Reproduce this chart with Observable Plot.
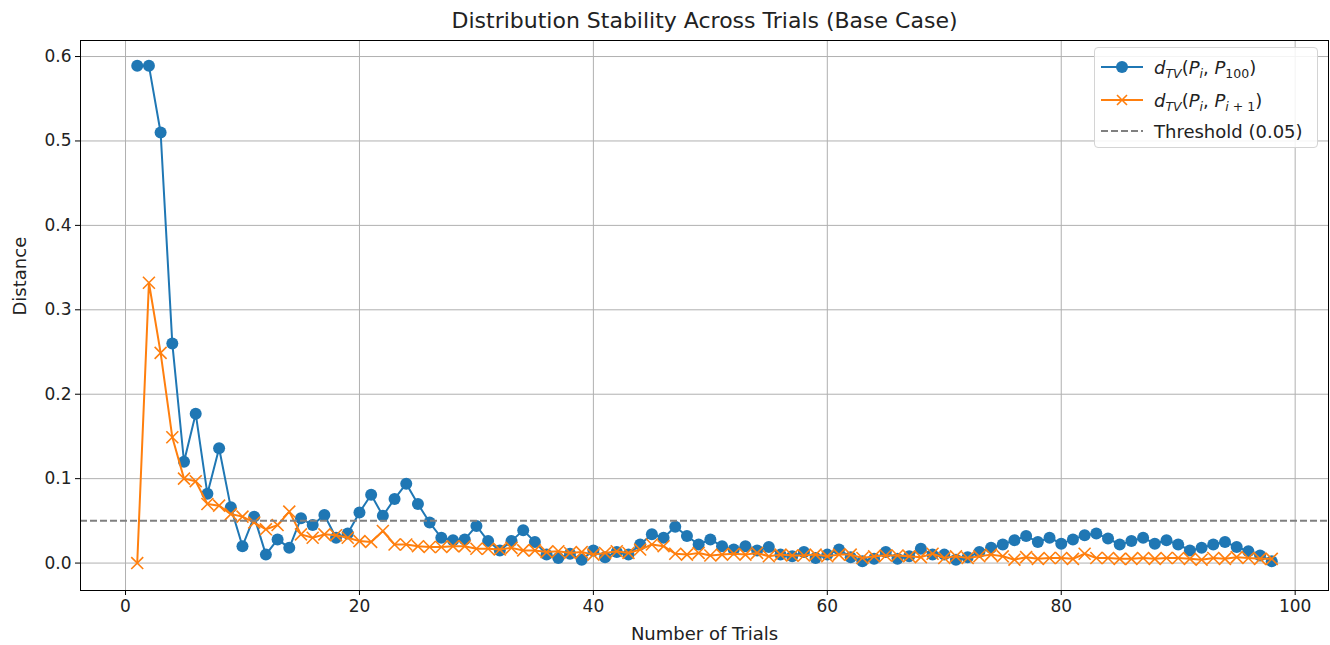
<!DOCTYPE html>
<html><head><meta charset="utf-8">
<script src="https://cdn.jsdelivr.net/npm/d3@7"></script>
<script src="https://cdn.jsdelivr.net/npm/@observablehq/plot@0.6"></script>
<style>
body{margin:0;background:#fff;font-family:"DejaVu Sans",sans-serif;}
#wrap{position:relative;width:1330px;height:645px;}
#legend{position:absolute;left:1094px;top:47px;width:224px;height:101px;border:1px solid #d4d4d4;border-radius:4px;background:rgba(255,255,255,0.85);font-size:18px;color:#222;box-sizing:border-box;}
.row{position:absolute;left:6px;height:26px;display:flex;align-items:center;}
.row svg{width:42px;height:20px;margin-right:11px;flex:none;}
.row span{white-space:nowrap;}
sub{font-size:12.5px;vertical-align:-4px;line-height:0;}
</style>
</head><body>
<div id="wrap"><div id="chart"></div>
<div id="legend">
 <div class="row" style="top:6px"><svg viewBox="0 0 42 20"><line x1="0" y1="10" x2="42" y2="10" stroke="#1f77b4" stroke-width="2"/><circle cx="21" cy="10" r="6" fill="#1f77b4"/></svg><span><i>d</i><sub><i>TV</i></sub>(<i>P</i><sub><i>i</i></sub>, <i>P</i><sub>100</sub>)</span></div>
 <div class="row" style="top:39px"><svg viewBox="0 0 42 20"><line x1="0" y1="10" x2="42" y2="10" stroke="#ff7f0e" stroke-width="2"/><path d="M16,5L26,15M26,5L16,15" stroke="#ff7f0e" stroke-width="1.6"/></svg><span><i>d</i><sub><i>TV</i></sub>(<i>P</i><sub><i>i</i></sub>, <i>P</i><sub><i>i</i> + 1</sub>)</span></div>
 <div class="row" style="top:70px"><svg viewBox="0 0 42 20"><line x1="0" y1="10" x2="42" y2="10" stroke="#808080" stroke-width="2" stroke-dasharray="7,3"/></svg><span>Threshold (0.05)</span></div>
</div>
</div>
<script>
const trials = Array.from({length: 98}, (_, i) => i + 1);
const dFinal = [0.589,0.589,0.51,0.26,0.12,0.177,0.082,0.136,0.066,0.02,
0.055,0.01,0.028,0.018,0.053,0.045,0.057,0.03,0.035,0.06,
0.081,0.056,0.076,0.094,0.07,0.048,0.03,0.027,0.028,0.044,
0.026,0.015,0.026,0.039,0.025,0.01,0.006,0.011,0.004,0.015,
0.007,0.013,0.01,0.022,0.034,0.03,0.043,0.032,0.022,0.028,
0.02,0.016,0.02,0.015,0.019,0.01,0.008,0.013,0.006,0.01,
0.016,0.007,0.002,0.005,0.013,0.005,0.008,0.017,0.01,0.01,
0.004,0.007,0.013,0.018,0.022,0.027,0.032,0.025,0.03,0.023,
0.028,0.033,0.035,0.029,0.022,0.026,0.03,0.023,0.027,0.022,
0.015,0.018,0.022,0.025,0.019,0.014,0.009,0.002];
const dNext = [0,0.332,0.249,0.149,0.1,0.097,0.07,0.068,0.058,0.055,
0.048,0.04,0.045,0.061,0.034,0.03,0.034,0.033,0.03,0.026,
0.025,0.038,0.022,0.022,0.02,0.019,0.019,0.02,0.02,0.017,
0.017,0.016,0.018,0.015,0.015,0.013,0.014,0.012,0.013,0.01,
0.012,0.014,0.012,0.016,0.022,0.02,0.011,0.01,0.012,0.009,
0.01,0.011,0.01,0.012,0.008,0.01,0.009,0.009,0.01,0.008,
0.01,0.01,0.006,0.008,0.009,0.009,0.008,0.007,0.011,0.006,
0.008,0.006,0.008,0.01,0.008,0.004,0.007,0.005,0.006,0.006,
0.005,0.011,0.006,0.006,0.005,0.005,0.006,0.005,0.006,0.006,
0.005,0.004,0.006,0.005,0.007,0.006,0.005,0.005];
const threshold = [0.05];
const xTicks = [0, 20, 40, 60, 80, 100];
const yTicks = [0, 0.1, 0.2, 0.3, 0.4, 0.5, 0.6];

const blue = "#1f77b4", orange = "#ff7f0e";
const rowsA = trials.map((t, i) => ({t, v: dFinal[i]}));
const rowsB = trials.map((t, i) => ({t, v: dNext[i]}));

const chart = Plot.plot({
  width: 1330, height: 645,
  marginTop: 40, marginBottom: 55, marginLeft: 80, marginRight: 2,
  style: {fontFamily: "DejaVu Sans", fontSize: "17px", color: "#222", background: "#fff"},
  x: {domain: [-3.85, 102.85], label: null},
  y: {domain: [-0.0325, 0.619], label: null},
  marks: [
    Plot.gridX(xTicks, {stroke: "#b0b0b0", strokeOpacity: 1, strokeWidth: 1}),
    Plot.gridY(yTicks, {stroke: "#b0b0b0", strokeOpacity: 1, strokeWidth: 1}),
    Plot.axisX(xTicks, {tickSize: 5, tickPadding: 4, fontSize: 17, tickFormat: d => String(d), label: null, stroke: "#000"}),
    Plot.axisY(yTicks, {tickSize: 5, tickPadding: 4, fontSize: 17, tickFormat: d3.format(".1f"), label: null, stroke: "#000"}),
    Plot.lineY(rowsA, {x: "t", y: "v", stroke: blue, strokeWidth: 2}),
    Plot.dot(rowsA, {x: "t", y: "v", r: 6, fill: blue, stroke: "none"}),
    Plot.lineY(rowsB, {x: "t", y: "v", stroke: orange, strokeWidth: 2}),
    Plot.dot(rowsB, {x: "t", y: "v", symbol: "times", r: 5.5, stroke: orange, strokeWidth: 1.6, fill: "none"}),
    Plot.ruleY(threshold, {stroke: "#808080", strokeWidth: 2, strokeDasharray: "7,3"}),
    Plot.frame({stroke: "#000", strokeWidth: 1}),
    Plot.text(["Distribution Stability Across Trials (Base Case)"], {frameAnchor: "top", lineAnchor: "middle", dy: -20, fontSize: 22, fill: "#222"}),
    Plot.text(["Number of Trials"], {frameAnchor: "bottom", lineAnchor: "middle", dy: 44, fontSize: 18, fill: "#222"}),
    Plot.text(["Distance"], {frameAnchor: "left", lineAnchor: "middle", dx: -60, rotate: -90, fontSize: 18, fill: "#222"})
  ]
});
document.getElementById("chart").appendChild(chart);
</script>
</body></html>
